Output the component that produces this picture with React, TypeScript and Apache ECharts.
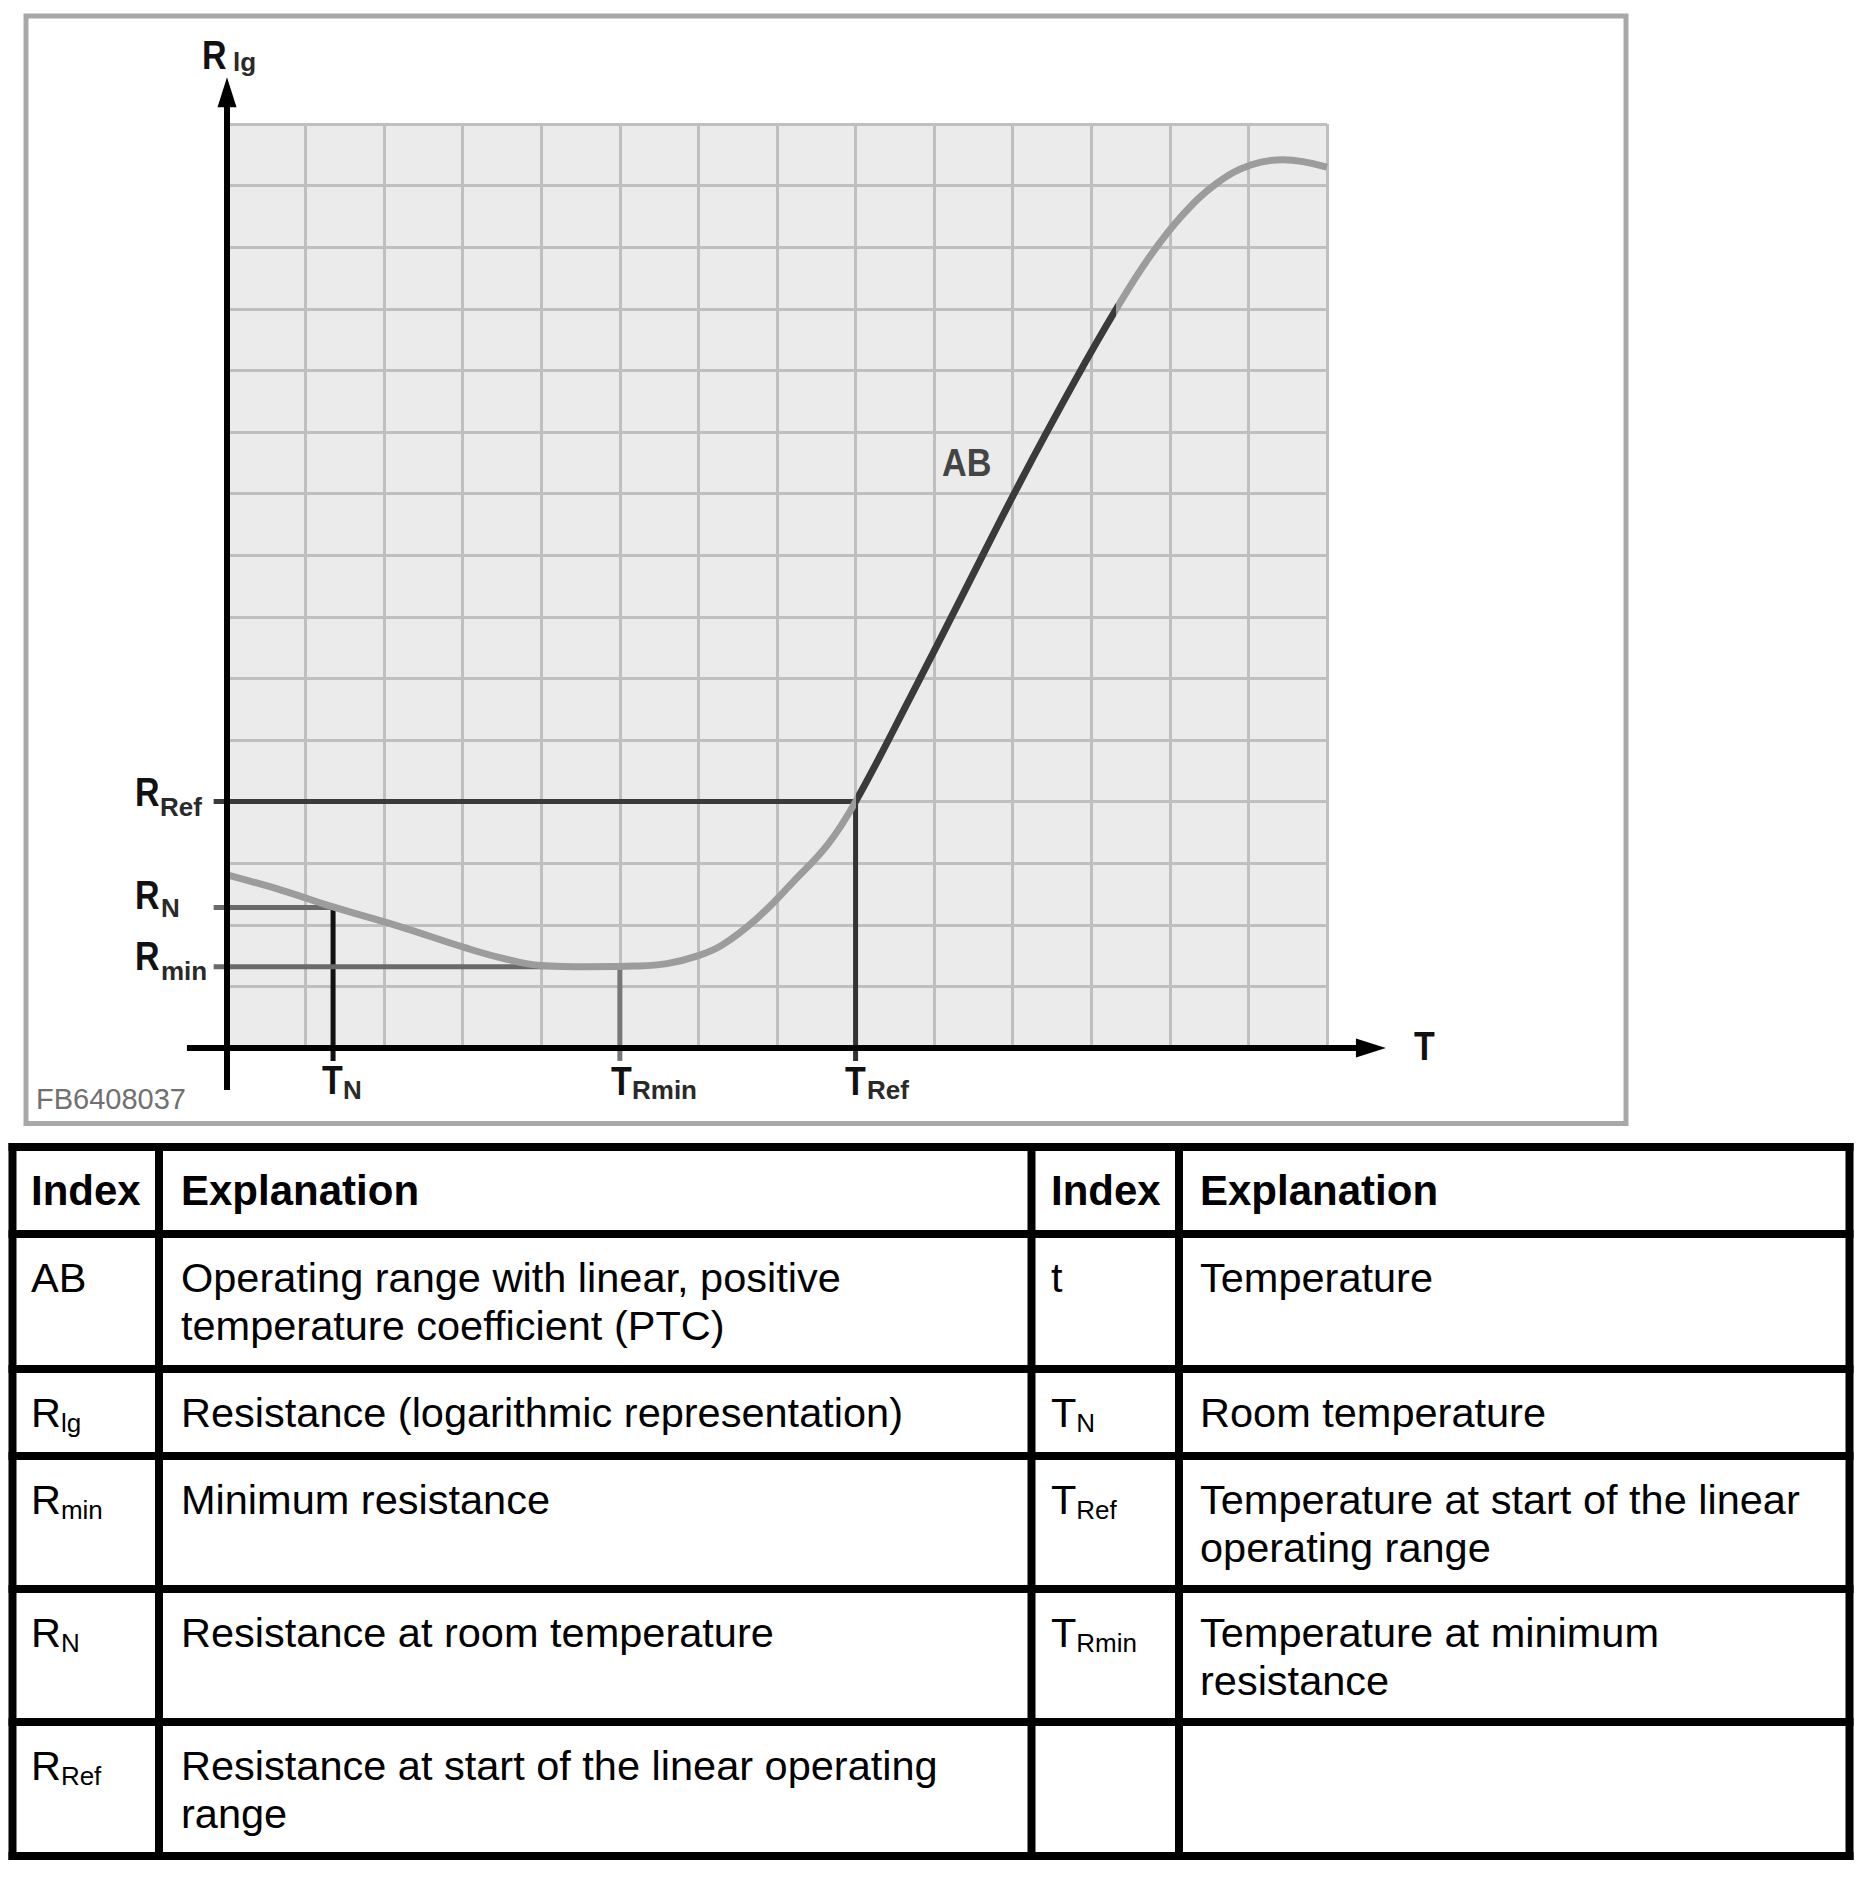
import React, { useEffect, useRef } from "react";
import * as echarts from "echarts";

// ---------------- data (grid units: T along x, lg R along y) ----------------
const T_MIN = 0;
const T_MAX = 14;
const R_MIN_AXIS = 0;
const R_MAX_AXIS = 15;

const CURVE_T = [0, 0.7, 1.35, 2.2, 3.05, 3.5, 4.0, 4.6, 5.2, 5.6, 6.0, 6.3, 6.75, 7.2, 7.65, 8.0, 8.7, 9.4, 10.1, 10.8, 11.31, 11.74, 12.16, 12.6, 13.02, 13.44, 14.0];
const CURVE_R = [2.81, 2.56, 2.29, 1.97, 1.62, 1.46, 1.34, 1.32, 1.33, 1.37, 1.5, 1.67, 2.11, 2.69, 3.31, 4.0, 5.7, 7.45, 9.2, 10.85, 11.98, 12.84, 13.52, 14.04, 14.33, 14.42, 14.3];

const AB_START_T = 8.0;
const AB_END_T = 11.31;

const T_N = 1.35;
const T_RMIN = 5;
const T_REF = 8;
const R_N = 2.28;
const R_MIN = 1.32;
const R_REF = 4;

// axis extents beyond the plotting area (grid units)
const TICK_OUT_T = -0.17;
const TICK_OUT_R = -0.21;
const X_AXIS_START = -0.51;
const Y_AXIS_START = -0.68;
const X_ARROW_TIP = 14.75;
const Y_ARROW_TIP = 15.76;

// reference (projection) lines: points in grid units, plus style
const REF_LINES = [
  { pts: [[TICK_OUT_T, R_REF], [T_REF, R_REF]], color: "#3a3a3a" },
  { pts: [[T_REF, R_REF], [T_REF, TICK_OUT_R]], color: "#333333" },
  { pts: [[TICK_OUT_T, R_N], [T_N, R_N]], color: "#6a6a6a" },
  { pts: [[T_N, R_N], [T_N, TICK_OUT_R]], color: "#111111" },
  { pts: [[TICK_OUT_T, R_MIN], [T_RMIN, R_MIN]], color: "#6a6a6a" },
  { pts: [[T_RMIN, R_MIN], [T_RMIN, TICK_OUT_R]], color: "#777777" },
];

const AXES = [
  { from: [X_AXIS_START, 0], tip: [X_ARROW_TIP, 0] },
  { from: [0, Y_AXIS_START], tip: [0, Y_ARROW_TIP] },
];

// ---------------- table ----------------
const TABLE_HEADERS = ["Index", "Explanation", "Index", "Explanation"];
const LEFT_INDEX = [["AB", ""], ["R", "lg"], ["R", "min"], ["R", "N"], ["R", "Ref"]];
const LEFT_TEXT = [
  "Operating range with linear, positive\ntemperature coefficient (PTC)",
  "Resistance (logarithmic representation)",
  "Minimum resistance",
  "Resistance at room temperature",
  "Resistance at start of the linear operating\nrange",
];
const RIGHT_INDEX = [["t", ""], ["T", "N"], ["T", "Ref"], ["T", "Rmin"], ["", ""]];
const RIGHT_TEXT = [
  "Temperature",
  "Room temperature",
  "Temperature at start of the linear\noperating range",
  "Temperature at minimum\nresistance",
  "",
];

const FONT = '"Liberation Sans", Arial, Helvetica, sans-serif';

// layout (pixels)
const ROW_LINES = [1147, 1234, 1369, 1456, 1589, 1722, 1856];
const COL_LINES = [12.5, 159, 1031.5, 1179, 1849.5];
const COL_TEXT_X = [31, 181, 1051, 1200];
const ADV: Record<string, number> = { R: 0.72, T: 0.61 };
const BODY_SIZE = 41.5;

function txt(x: number, y: number, text: string, size: number, o: any = {}) {
  return {
    type: "text",
    x,
    y,
    scaleX: o.scaleX ?? 1,
    silent: true,
    z: 100,
    style: {
      text,
      fontSize: size,
      fontWeight: o.bold ? "bold" : "normal",
      fontFamily: FONT,
      fill: o.color ?? "#000",
      align: "left",
      verticalAlign: o.va ?? "middle",
      lineHeight: o.lh,
    },
  };
}

function buildGraphics() {
  const g: any[] = [];
  g.push({
    type: "rect",
    silent: true,
    z: -10,
    shape: { x: 26, y: 16, width: 1600, height: 1107.5 },
    style: { fill: "none", stroke: "#a8a8a8", lineWidth: 5 },
  });
  ROW_LINES.forEach((y) => {
    g.push({ type: "rect", silent: true, shape: { x: 8.5, y: y - 4, width: 1845, height: 8 }, style: { fill: "#000" } });
  });
  COL_LINES.forEach((x) => {
    g.push({ type: "rect", silent: true, shape: { x: x - 4, y: 1143, width: 8, height: 717 }, style: { fill: "#000" } });
  });
  TABLE_HEADERS.forEach((h, i) => {
    g.push(txt(COL_TEXT_X[i], ROW_LINES[0] + 43, h, 42, { bold: true }));
  });
  const indexCell = (x: number, cap: number, pair: string[]) => {
    if (!pair[0]) return;
    g.push(txt(x, cap, pair[0], BODY_SIZE));
    if (pair[1]) g.push(txt(x + (ADV[pair[0]] ?? 0.6) * BODY_SIZE, cap + 11, pair[1], 26));
  };
  for (let i = 0; i < LEFT_TEXT.length; i++) {
    const cap = ROW_LINES[i + 1] + 43;
    indexCell(COL_TEXT_X[0], cap, LEFT_INDEX[i]);
    g.push(txt(COL_TEXT_X[1], cap - 24, LEFT_TEXT[i], BODY_SIZE, { va: "top", lh: 48 }));
    indexCell(COL_TEXT_X[2], cap, RIGHT_INDEX[i]);
    if (RIGHT_TEXT[i]) g.push(txt(COL_TEXT_X[3], cap - 24, RIGHT_TEXT[i], BODY_SIZE, { va: "top", lh: 48 }));
  }
  const big = { bold: true, scaleX: 0.85, color: "#111" };
  const sub = { bold: true, color: "#2a2a2a" };
  g.push(txt(202, 55, "R", 40, big));
  g.push(txt(233, 62, "lg", 26, sub));
  g.push(txt(135, 792, "R", 40, big));
  g.push(txt(160, 807, "Ref", 26, sub));
  g.push(txt(135, 895, "R", 40, big));
  g.push(txt(161, 908, "N", 26, sub));
  g.push(txt(135, 956, "R", 40, big));
  g.push(txt(161, 971, "min", 26, sub));
  g.push(txt(322, 1080, "T", 40, big));
  g.push(txt(343, 1090, "N", 26, sub));
  g.push(txt(611, 1081, "T", 40, big));
  g.push(txt(632, 1090, "Rmin", 26, sub));
  g.push(txt(845, 1081, "T", 40, big));
  g.push(txt(867, 1090, "Ref", 26, sub));
  g.push(txt(1414, 1046, "T", 40, big));
  g.push(txt(942, 463, "AB", 38, { bold: true, scaleX: 0.9, color: "#444" }));
  g.push(txt(36, 1099, "FB6408037", 29, { color: "#707070" }));
  return g;
}

export default function App() {
  const ref = useRef<HTMLDivElement>(null);
  useEffect(() => {
    document.body.style.margin = "0";
    const chart = echarts.init(ref.current!, null, { renderer: "svg" });
    const curve = CURVE_T.map((t, i) => [t, CURVE_R[i]]);
    const axisCommon = {
      type: "value",
      interval: 1,
      axisLine: { show: false },
      axisTick: { show: false },
      axisLabel: { show: false },
      splitLine: { show: true, lineStyle: { color: "#bfbfbf", width: 3 } },
    };
    chart.setOption({
      animation: false,
      backgroundColor: "#fff",
      grid: {
        left: 227,
        top: 124,
        width: 1100,
        height: 924,
        show: true,
        backgroundColor: "#ebebeb",
        borderWidth: 0,
      },
      xAxis: { ...axisCommon, min: T_MIN, max: T_MAX },
      yAxis: { ...axisCommon, min: R_MIN_AXIS, max: R_MAX_AXIS },
      visualMap: {
        type: "piecewise",
        show: false,
        dimension: 0,
        seriesIndex: 0,
        pieces: [
          { lt: AB_START_T, color: "#9c9c9c" },
          { gte: AB_START_T, lte: AB_END_T, color: "#3a3a3a" },
          { gt: AB_END_T, color: "#9c9c9c" },
        ],
      },
      series: [
        {
          type: "line",
          data: curve,
          symbol: "none",
          smooth: 0.4,
          silent: true,
          z: 6,
          lineStyle: { width: 7 },
        },
        {
          type: "custom",
          silent: true,
          clip: false,
          z: 4,
          data: REF_LINES.map((_, i) => i),
          renderItem: (params: any, api: any) => {
            const s = REF_LINES[params.dataIndex];
            return {
              type: "polyline",
              shape: { points: s.pts.map((p) => api.coord(p)) },
              style: { stroke: s.color, lineWidth: 5, fill: null },
            };
          },
        },
        {
          type: "custom",
          silent: true,
          clip: false,
          z: 8,
          data: AXES.map((_, i) => i),
          renderItem: (params: any, api: any) => {
            const a = AXES[params.dataIndex];
            const p0 = api.coord(a.from);
            const tip = api.coord(a.tip);
            const dx = tip[0] - p0[0];
            const dy = tip[1] - p0[1];
            const len = Math.sqrt(dx * dx + dy * dy);
            const ux = dx / len;
            const uy = dy / len;
            const L = 30;
            const W = 9.5;
            const bx = tip[0] - ux * L;
            const by = tip[1] - uy * L;
            return {
              type: "group",
              children: [
                {
                  type: "line",
                  shape: { x1: p0[0], y1: p0[1], x2: tip[0] - ux * 15, y2: tip[1] - uy * 15 },
                  style: { stroke: "#000", lineWidth: 6 },
                },
                {
                  type: "polygon",
                  shape: {
                    points: [
                      tip,
                      [bx - uy * W, by + ux * W],
                      [bx + uy * W, by - ux * W],
                    ],
                  },
                  style: { fill: "#000" },
                },
              ],
            };
          },
        },
      ],
      graphic: buildGraphics(),
    });
    return () => chart.dispose();
  }, []);
  return <div ref={ref} style={{ width: 1864, height: 1880 }} />;
}
